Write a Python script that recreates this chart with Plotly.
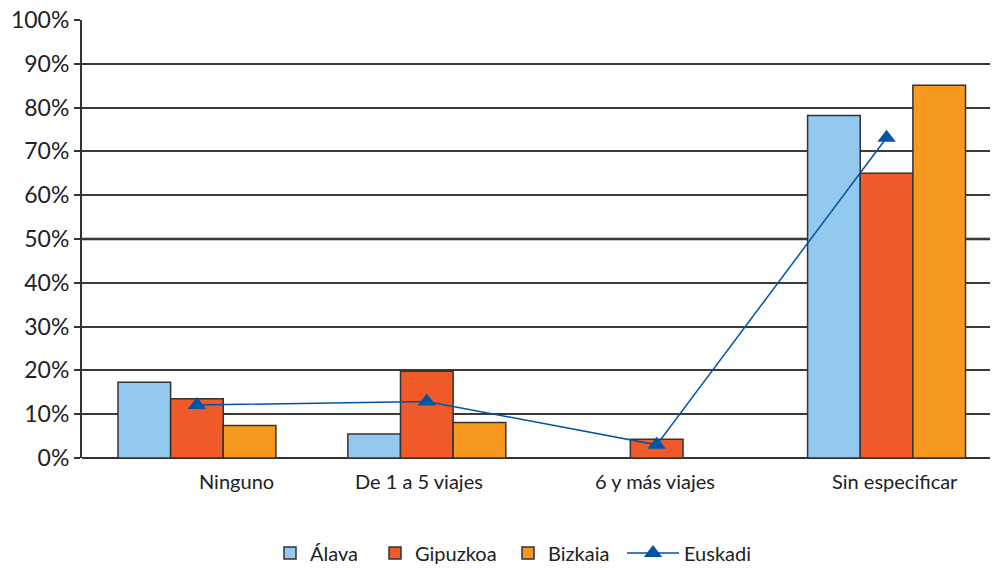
import plotly.graph_objects as go

categories = ["Ninguno", "De 1 a 5 viajes", "6 y más viajes", "Sin especificar"]
alava = [17.3, 5.5, 0, 78.2]
gipuzkoa = [13.5, 19.8, 4.3, 65.0]
bizkaia = [7.4, 8.1, 0, 85.1]
euskadi = [12.1, 12.9, 3.0, 73.1]
y_ticks = [0, 10, 20, 30, 40, 50, 60, 70, 80, 90, 100]
y_labels = [f"{v}%" for v in y_ticks]
label_shift = [40, -8, -2, 8]

FONT = "Lato"
DARK = "#333333"
outline = dict(color=DARK, width=1.5)

fig = go.Figure()
fig.add_trace(go.Bar(name="Álava", x=categories, y=alava, legend="legend", showlegend=True,
                     marker=dict(color="#93C9EE", line=outline)))
fig.add_trace(go.Bar(name="Gipuzkoa", x=categories, y=gipuzkoa, legend="legend2", showlegend=True,
                     marker=dict(color="#F15A29", line=outline)))
fig.add_trace(go.Bar(name="Bizkaia", x=categories, y=bizkaia, legend="legend3", showlegend=True,
                     marker=dict(color="#F7991F", line=outline)))
fig.add_trace(go.Scatter(name="Euskadi", x=categories, y=euskadi, legend="legend4", showlegend=True,
                         mode="lines+markers",
                         line=dict(color="#0055A5", width=1.5),
                         marker=dict(symbol="triangle-up", size=16, color="#0055A5")))

for cat, sh in zip(categories, label_shift):
    fig.add_annotation(x=cat, y=0, xref="x", yref="y", text=cat, showarrow=False,
                       yshift=-23, xshift=sh, font=dict(family=FONT, size=20, color="#222"))

fig.add_shape(type="line", xref="paper", yref="y", x0=0, x1=1, y0=50, y1=50,
              line=dict(color="#222", width=2.5), layer="below")


def leg(px, iw=30):
    return dict(orientation="h", xref="container", yref="container",
                x=px / 992, xanchor="left", y=1 - 553 / 570, yanchor="middle",
                font=dict(family=FONT, size=20, color="#222"),
                itemwidth=iw, bgcolor="rgba(0,0,0,0)")


fig.update_layout(
    width=992, height=570, showlegend=True,
    margin=dict(l=82, r=2, t=20, b=112, autoexpand=False),
    paper_bgcolor="white", plot_bgcolor="white",
    barmode="group", bargap=0.313, bargroupgap=0,
    font=dict(family=FONT, size=20, color="#222"),
    legend=leg(270), legend2=leg(375), legend3=leg(508), legend4=leg(622, 52),
    xaxis=dict(type="category", range=[-0.5, 3.45], showticklabels=False,
               showgrid=False, showline=False, ticks=""),
    yaxis=dict(range=[0, 100], tickmode="array", tickvals=y_ticks, ticktext=y_labels,
               showgrid=True, gridcolor="#3a3a3a", gridwidth=1.5,
               showline=True, linecolor=DARK, linewidth=2,
               ticks="outside", ticklen=6, tickcolor=DARK, tickwidth=1.5,
               tickfont=dict(family=FONT, size=23, color="#222"),
               zeroline=True, zerolinecolor=DARK, zerolinewidth=2),
)

fig.write_html("out.html", post_script="document.body.style.margin='0px';",
               config={"displayModeBar": False})
